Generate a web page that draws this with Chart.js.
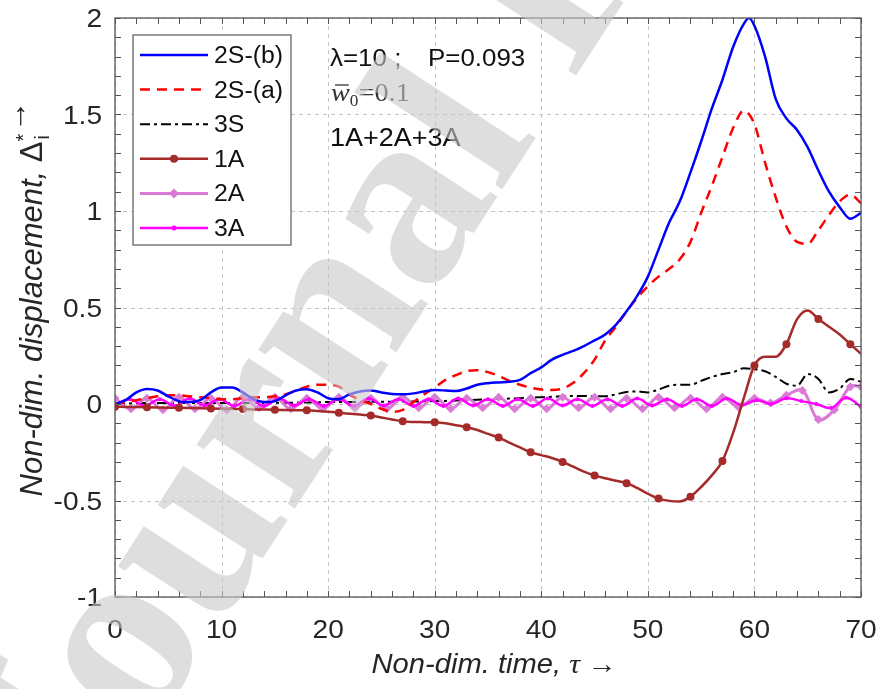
<!DOCTYPE html>
<html>
<head>
<meta charset="utf-8">
<script src="https://cdn.jsdelivr.net/npm/chart.js@4.4.0/dist/chart.umd.min.js"></script>
<style>
html, body { margin: 0; padding: 0; background: #fff; }
canvas { display: block; }
</style>
</head>
<body>
<canvas id="chart" width="882" height="689"></canvas>
<script>
'use strict';

// ---- data ----
var xTicks = [0, 10, 20, 30, 40, 50, 60, 70];
var yTicks = [-1, -0.5, 0, 0.5, 1, 1.5, 2];
var yTickLabels = ['-1', '-0.5', '0', '0.5', '1', '1.5', '2'];

var tau2Sb = [0,1,2,3,4,5,6,7,8,9,10,11,12,13,14,15,16,17,18,19,20,21,22,23,24,25,26,27,28,29,
  30,31,32,33,34,35,36,37,38,39,40,41,42,43,44,45,46,47,48,49,50,51,52,53,54,55,56,57,58,59,59.5,
  60,61,62,63,64,65,66,67,68,69,70];
var disp2Sb = [0,0.02,0.06,0.078,0.07,0.04,0.015,0.01,0.02,0.06,
  0.085,0.085,0.06,0.025,0.01,0.015,0.045,0.07,0.077,0.06,
  0.03,0.025,0.05,0.065,0.07,0.06,0.052,0.05,0.055,0.065,
  0.072,0.07,0.067,0.08,0.1,0.108,0.112,0.115,0.125,0.16,
  0.19,0.23,0.255,0.275,0.3,0.33,0.36,0.41,0.48,0.56,
  0.66,0.8,0.94,1.05,1.2,1.36,1.53,1.68,1.85,1.97,2.0,
  1.96,1.8,1.58,1.48,1.42,1.33,1.21,1.1,1.02,0.96,0.99];

var tauInt = [0,1,2,3,4,5,6,7,8,9,10,11,12,13,14,15,16,17,18,19,20,21,22,23,24,25,26,27,28,29,
  30,31,32,33,34,35,36,37,38,39,40,41,42,43,44,45,46,47,48,49,50,51,52,53,54,55,56,57,58,59,
  60,61,62,63,64,65,66,67,68,69,70];
var disp2Sa = [0,0.01,0.02,0.03,0.04,0.045,0.045,0.04,0.035,0.03,
  0.025,0.025,0.03,0.035,0.035,0.04,0.05,0.07,0.09,0.1,
  0.1,0.09,0.05,0.02,0.0,-0.025,-0.04,-0.03,0.01,0.05,
  0.085,0.125,0.15,0.17,0.175,0.165,0.145,0.12,0.1,0.085,
  0.075,0.073,0.08,0.11,0.16,0.23,0.33,0.4,0.48,0.55,
  0.61,0.66,0.7,0.75,0.84,0.99,1.13,1.28,1.43,1.52,
  1.45,1.25,1.07,0.92,0.84,0.83,0.9,0.98,1.05,1.085,1.04];
var disp3S = [0,0.002,0.004,0.005,0.005,0.005,0.005,0.005,0.005,0.005,
  0.005,0.005,0.005,0.005,0.005,0.006,0.006,0.007,0.008,0.009,
  0.01,0.01,0.011,0.011,0.012,0.012,0.012,0.013,0.013,0.014,
  0.015,0.016,0.018,0.02,0.022,0.025,0.027,0.028,0.03,0.033,
  0.035,0.037,0.04,0.042,0.042,0.04,0.04,0.05,0.062,0.065,
  0.06,0.075,0.095,0.1,0.1,0.12,0.14,0.155,0.165,0.185,
  0.18,0.17,0.14,0.105,0.095,0.155,0.13,0.06,0.08,0.13,0.115];
var disp1A = [-0.014,-0.015,-0.016,-0.017,-0.018,-0.019,-0.02,-0.021,-0.022,-0.023,
  -0.024,-0.025,-0.026,-0.028,-0.029,-0.03,-0.031,-0.032,-0.033,-0.036,
  -0.04,-0.045,-0.05,-0.055,-0.06,-0.07,-0.08,-0.09,-0.093,-0.094,
  -0.095,-0.1,-0.11,-0.12,-0.135,-0.155,-0.174,-0.2,-0.225,-0.25,
  -0.265,-0.28,-0.3,-0.325,-0.35,-0.37,-0.385,-0.398,-0.41,-0.435,
  -0.465,-0.49,-0.502,-0.505,-0.48,-0.43,-0.37,-0.295,-0.15,0.03,
  0.2,0.245,0.245,0.31,0.44,0.485,0.44,0.4,0.36,0.31,0.26];

var tau2A = [0,1.5,3,4.5,6,7.5,9,10.5,12,13.5,15,16.5,18,19.5,21,22.5,24,25.5,27,28.5,
  30,31.5,33,34.5,36,37.5,39,40.5,42,43.5,45,46.5,48,49.5,51,52.5,54,55.5,57,58.5,
  60,61.5,63,64.5,66,67.5,69,70];
var disp2A = [0.03,-0.025,0.03,-0.03,0.035,-0.025,0.03,-0.03,0.035,-0.02,
  0.035,-0.025,0.03,-0.025,0.035,-0.02,0.03,-0.025,0.035,-0.02,
  0.035,-0.025,0.03,-0.02,0.035,-0.025,0.03,-0.025,0.035,-0.02,
  0.035,-0.025,0.03,-0.025,0.035,-0.02,0.03,-0.025,0.035,-0.015,
  0.03,0.005,0.045,0.07,-0.08,-0.03,0.09,0.09];

var tau3A = [0,1.4,2.8,4.2,5.6,7,8.4,9.8,11.2,12.6,14,15.4,16.8,18.2,19.6,21,22.4,23.8,25.2,26.6,
  28,29.4,30.8,32.2,33.6,35,36.4,37.8,39.2,40.6,42,43.4,44.8,46.2,47.6,49,50.4,51.8,53.2,54.6,
  56,57.4,58.8,60.2,61.6,63,64.4,65.8,67.2,68.6,70];
var disp3A = [-0.005,0.025,-0.01,0.025,-0.01,0.028,-0.008,0.025,-0.01,0.025,
  -0.01,0.028,-0.008,0.025,-0.01,0.025,-0.01,0.028,-0.008,0.025,
  -0.01,0.025,-0.01,0.028,-0.008,0.025,-0.01,0.025,-0.01,0.028,
  -0.008,0.025,-0.01,0.025,-0.01,0.028,-0.008,0.025,-0.01,0.025,
  -0.01,0.028,-0.005,0.02,0.0,0.03,0.015,0.0,-0.02,0.033,-0.015];

var seriesLabels = ['2S-(b)', '2S-(a)', '3S', '1A', '2A', '3A'];

function pts(xs, ys) {
  return xs.map(function(x, i) { return {x: x, y: ys[i]}; });
}

// text in the original renders a little wider than plain Arial
var SX = 1.08;
var SANS = '"Liberation Sans", Arial, sans-serif';
var SERIF = '"Liberation Serif", "Times New Roman", serif';

function txt(ctx, s, x, y, font, align, color) {
  ctx.save();
  ctx.font = font;
  ctx.fillStyle = color || '#262626';
  ctx.textAlign = align || 'left';
  ctx.textBaseline = 'alphabetic';
  ctx.translate(x, y);
  ctx.scale(SX, 1);
  ctx.fillText(s, 0, 0);
  ctx.restore();
}
function txtWidth(ctx, s, font) {
  ctx.save();
  ctx.font = font;
  var w = ctx.measureText(s).width * SX;
  ctx.restore();
  return w;
}

function drawMarker(ctx, style, x, y, r, color) {
  ctx.save();
  ctx.setLineDash([]);
  ctx.fillStyle = color;
  ctx.beginPath();
  if (style === 'rectRot') {
    ctx.moveTo(x, y - r); ctx.lineTo(x + r, y); ctx.lineTo(x, y + r); ctx.lineTo(x - r, y);
    ctx.closePath();
  } else {
    ctx.arc(x, y, r, 0, Math.PI * 2);
  }
  ctx.fill();
  ctx.restore();
}

var framePlugin = {
  id: 'framePlugin',
  beforeDatasetsDraw: function(chart) {
    var ctx = chart.ctx, a = chart.chartArea, xs = chart.scales.x, ys = chart.scales.y;
    ctx.save();
    ctx.strokeStyle = '#c4c4c4';
    ctx.lineWidth = 1;
    ctx.setLineDash([4, 4]);
    xTicks.forEach(function(v) {
      var px = Math.round(xs.getPixelForValue(v)) + 0.5;
      ctx.beginPath(); ctx.moveTo(px, a.top); ctx.lineTo(px, a.bottom); ctx.stroke();
    });
    yTicks.forEach(function(v) {
      var py = Math.round(ys.getPixelForValue(v)) + 0.5;
      ctx.beginPath(); ctx.moveTo(a.left, py); ctx.lineTo(a.right, py); ctx.stroke();
    });
    ctx.restore();
  },
  afterDatasetsDraw: function(chart) {
    var ctx = chart.ctx, a = chart.chartArea, xs = chart.scales.x, ys = chart.scales.y;
    ctx.save();
    ctx.strokeStyle = '#555';
    ctx.lineWidth = 1.3;
    ctx.setLineDash([]);
    ctx.strokeRect(a.left, a.top, a.right - a.left, a.bottom - a.top);
    // minor + major ticks, inside, on all four sides
    ctx.lineWidth = 1;
    var i, px, py;
    for (i = 0; i <= 35; i++) {
      px = Math.round(xs.getPixelForValue(i * 2)) + 0.5;
      ctx.beginPath();
      ctx.moveTo(px, a.bottom); ctx.lineTo(px, a.bottom - 6);
      ctx.moveTo(px, a.top); ctx.lineTo(px, a.top + 6);
      ctx.stroke();
    }
    for (i = 0; i <= 30; i++) {
      py = Math.round(ys.getPixelForValue(-1 + i * 0.1)) + 0.5;
      ctx.beginPath();
      ctx.moveTo(a.left, py); ctx.lineTo(a.left + 6, py);
      ctx.moveTo(a.right, py); ctx.lineTo(a.right - 6, py);
      ctx.stroke();
    }
    ctx.restore();

    // tick labels
    var tf = '26px ' + SANS;
    xTicks.forEach(function(v) {
      txt(ctx, String(v), xs.getPixelForValue(v), 638, tf, 'center');
    });
    yTicks.forEach(function(v, k) {
      txt(ctx, yTickLabels[k], 102, ys.getPixelForValue(v) + 9.3, tf, 'right');
    });

    // axis titles
    var itf = 'italic 27px ' + SANS;
    var p1 = 'Non-dim. time, ';
    var w1 = txtWidth(ctx, p1, itf);
    var w2 = txtWidth(ctx, '\u03C4', 'italic 28px ' + SERIF);
    var w3 = txtWidth(ctx, ' \u2192', '27px ' + SERIF);
    var sx = 494 - (w1 + w2 + w3) / 2;
    txt(ctx, p1, sx, 673, itf);
    txt(ctx, '\u03C4', sx + w1, 673, 'italic 28px ' + SERIF);
    txt(ctx, ' \u2192', sx + w1 + w2, 673, '27px ' + SERIF);

    ctx.save();
    ctx.translate(42, 300);
    ctx.rotate(-Math.PI / 2);
    ctx.fillStyle = '#262626';
    ctx.textBaseline = 'alphabetic';
    var yf = 'italic 31px ' + SANS;
    var q1 = 'Non-dim. displacement, ';
    ctx.font = yf;
    var qw1 = ctx.measureText(q1).width;
    ctx.font = '31px ' + SANS;
    var qw2 = ctx.measureText('\u0394').width;
    var tot = qw1 + qw2 + 10 + 28;
    var qx = -tot / 2;
    ctx.font = yf;
    ctx.fillText(q1, qx, 0);
    ctx.font = '31px ' + SANS;
    ctx.fillText('\u0394', qx + qw1, 0);
    ctx.font = '20px ' + SANS;
    ctx.fillText('*', qx + qw1 + qw2, -12);
    ctx.fillText('i', qx + qw1 + qw2 + 2, 7);
    ctx.font = '31px ' + SERIF;
    ctx.fillText('\u2192', qx + qw1 + qw2 + 10, -16);
    ctx.restore();

    // legend
    var lx = 133, ly = 35, lw = 158, lh = 210;
    ctx.save();
    ctx.fillStyle = '#fff';
    ctx.fillRect(lx, ly, lw, lh);
    ctx.strokeStyle = '#666';
    ctx.lineWidth = 1.3;
    ctx.strokeRect(lx, ly, lw, lh);
    chart.data.datasets.forEach(function(ds, k) {
      var yy = 55 + k * 34.6;
      ctx.save();
      ctx.strokeStyle = ds.borderColor;
      ctx.lineWidth = ds.borderWidth;
      ctx.setLineDash(ds.borderDash || []);
      ctx.beginPath(); ctx.moveTo(140, yy); ctx.lineTo(208, yy); ctx.stroke();
      ctx.restore();
      if (ds.legendMarker) {
        drawMarker(ctx, ds.legendMarker, 174, yy, ds.legendRadius, ds.borderColor);
      }
      txt(ctx, ds.label, 214, yy + 8, '23px ' + SANS, 'left', '#111');
    });
    ctx.restore();

    // annotations
    var af = '24px ' + SANS;
    txt(ctx, '\u03BB=10 ;', 330, 66, af, 'left', '#111');
    txt(ctx, 'P=0.093', 428, 66, af, 'left', '#111');
    var wf = 'italic 26px ' + SERIF;
    var ww = txtWidth(ctx, 'w', wf);
    txt(ctx, 'w', 331, 101, wf, 'left', '#333');
    ctx.save();
    ctx.strokeStyle = '#333'; ctx.lineWidth = 1.3;
    ctx.beginPath(); ctx.moveTo(335, 85); ctx.lineTo(331 + ww - 1, 85); ctx.stroke();
    ctx.restore();
    txt(ctx, '0', 331 + ww, 106, '16px ' + SERIF, 'left', '#333');
    txt(ctx, '=0.1', 331 + ww + 9, 101, '26px ' + SERIF, 'left', '#333');
    txt(ctx, '1A+2A+3A', 330, 146, '25px ' + SANS, 'left', '#111');
  },
  afterDraw: function(chart) {
    // diagonal journal watermark laid over the figure
    var ctx = chart.ctx;
    ctx.save();
    ctx.translate(75, 847);
    ctx.rotate(-57 * Math.PI / 180);
    ctx.font = 'bold 255px ' + SERIF;
    ctx.fillStyle = 'rgba(200,200,200,0.6)';
    ctx.textBaseline = 'alphabetic';
    ctx.fillText('Journal Pre-proof', 0, 0);
    ctx.restore();
  }
};

var ctxEl = document.getElementById('chart').getContext('2d');
new Chart(ctxEl, {
  type: 'line',
  data: {
    datasets: [
      {
        label: seriesLabels[0], data: pts(tau2Sb, disp2Sb),
        borderColor: '#0000ff', borderWidth: 2.5, pointRadius: 0,
        cubicInterpolationMode: 'monotone', order: 2
      },
      {
        label: seriesLabels[1], data: pts(tauInt, disp2Sa),
        borderColor: '#ff0000', borderWidth: 2.5, borderDash: [10, 7], pointRadius: 0,
        cubicInterpolationMode: 'monotone', order: 3
      },
      {
        label: seriesLabels[2], data: pts(tauInt, disp3S),
        borderColor: '#000000', borderWidth: 2, borderDash: [10, 4, 3, 4], pointRadius: 0,
        cubicInterpolationMode: 'monotone', order: 6
      },
      {
        label: seriesLabels[3], data: pts(tauInt, disp1A),
        borderColor: '#a52a2a', borderWidth: 2.5, backgroundColor: '#a52a2a',
        pointRadius: function(c) { return c.dataIndex % 3 === 0 ? 4 : 0; },
        pointBorderWidth: 0, cubicInterpolationMode: 'monotone', order: 1,
        legendMarker: 'circle', legendRadius: 4
      },
      {
        label: seriesLabels[4], data: pts(tau2A, disp2A),
        borderColor: '#d97bd5', borderWidth: 3, backgroundColor: '#d97bd5',
        pointStyle: 'rectRot', pointRadius: 4.5, pointBorderWidth: 0,
        tension: 0.4, order: 5,
        legendMarker: 'rectRot', legendRadius: 5
      },
      {
        label: seriesLabels[5], data: pts(tau3A, disp3A),
        borderColor: '#ff00ff', borderWidth: 2.5, backgroundColor: '#ff00ff',
        pointRadius: 2, pointBorderWidth: 0, tension: 0.4, order: 4,
        legendMarker: 'circle', legendRadius: 2.5
      }
    ]
  },
  options: {
    responsive: false,
    animation: false,
    events: [],
    layout: { padding: { left: 0, right: 21, top: 18, bottom: 0 } },
    plugins: { legend: { display: false }, tooltip: { enabled: false } },
    scales: {
      x: {
        type: 'linear', min: 0, max: 70,
        afterBuildTicks: function(s) { s.ticks = xTicks.map(function(v) { return {value: v}; }); },
        afterFit: function(s) { s.height = 92; },
        ticks: { display: false },
        grid: { display: false, drawTicks: false },
        border: { display: false }
      },
      y: {
        type: 'linear', min: -1, max: 2,
        afterBuildTicks: function(s) { s.ticks = yTicks.map(function(v) { return {value: v}; }); },
        afterFit: function(s) { s.width = 115; },
        ticks: { display: false },
        grid: { display: false, drawTicks: false },
        border: { display: false }
      }
    }
  },
  plugins: [framePlugin]
});
</script>
</body>
</html>
